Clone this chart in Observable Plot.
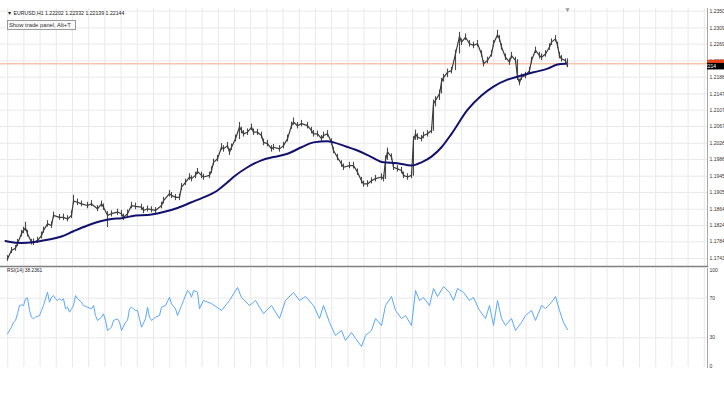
<!DOCTYPE html>
<html><head><meta charset="utf-8">
<script src="https://cdn.jsdelivr.net/npm/d3@7"></script>
<script src="https://cdn.jsdelivr.net/npm/@observablehq/plot@0.6"></script>
<style>
html,body{margin:0;padding:0;background:#fff;}
#wrap{position:relative;width:724px;height:395px;overflow:hidden;font-family:"Liberation Sans",Arial,sans-serif;background:#fff;}
#main{position:absolute;left:0;top:0;}
#rsi{position:absolute;left:0;top:267px;}
.hdr{position:absolute;left:7px;top:10px;font-size:5.2px;line-height:6px;color:#222;white-space:nowrap;}
.btn{position:absolute;left:6.5px;top:20px;width:69px;height:9.5px;border:1px solid #9a9a9a;background:#f8f8f8;font-size:5.8px;line-height:8px;padding-left:1.5px;color:#333;box-sizing:border-box;white-space:nowrap;}
.rsil{position:absolute;left:7px;top:268px;font-size:4.8px;line-height:5px;color:#222;white-space:nowrap;}
</style></head><body>
<div id="wrap"><div id="main"></div><div id="rsi"></div>
<div class="hdr">▼ EURUSD,H1 1.22202 1.22332 1.22139 1.22144</div>
<div class="btn">Show trade panel, Alt+T</div>
<div class="rsil">RSI(14) 38.2361</div>
</div>
<script>
// ---------- data ----------
const priceTicks = [1.2350,1.2309,1.2269,1.2228,1.2188,1.2147,1.2107,1.2067,1.2026,1.1986,1.1945,1.1905,1.1864,1.1824,1.1784,1.1743];
const rsiTicks = [100,70,30,0];
const rsiLevels = [70,30];
const bidPrice = 1.22144;
const askPrice = 1.2221;
const shiftBar = [281];

const barIndex = [1,3,5,6,8,9,10,11,13,14,
16,18,19,21,23,24,27,29,31,33,
34,36,38,41,43,46,48,49,51,53,
56,58,59,61,63,65,68,69,71,73,
75,78,79,82,83,85,87,88,90,92,
93,95,96,98,99,102,103,104,106,108,
109,111,112,113,115,117,118,119,121,123,
124,126,128,129,131,133,134,137,139,141,
143,144,146,148,151,153,154,156,158,159,
161,163,164,166,168,169,172,174,176,178,
179,181,183,185,188,189,190,191,193,194,
196,198,199,201,203,204,205,206,208,209,
211,213,214,215,217,218,219,221,223,225,
227,228,230,232,234,236,238,239,241,243,
244,246,247,248,250,252,253,255,256,257,
258,260,262,263,265,267,268,270,272,273,
275,276,277,278,280,281];

const closes = [1.1742,1.1763,1.1768,1.1780,1.1804,1.1812,1.1818,1.1804,1.1783,1.1783,
1.1787,1.1799,1.1812,1.1828,1.1824,1.1849,1.1844,1.1844,1.1840,1.1849,
1.1884,1.1881,1.1877,1.1873,1.1877,1.1865,1.1877,1.1869,1.1849,1.1853,
1.1857,1.1853,1.1844,1.1853,1.1873,1.1871,1.1869,1.1861,1.1865,1.1863,
1.1861,1.1873,1.1885,1.1902,1.1898,1.1893,1.1893,1.1918,1.1930,1.1943,
1.1939,1.1947,1.1957,1.1947,1.1943,1.1947,1.1959,1.1979,1.1988,1.2016,
1.2012,1.2020,1.2004,1.2016,1.2037,1.2066,1.2057,1.2049,1.2053,1.2065,
1.2053,1.2053,1.2045,1.2028,1.2025,1.2012,1.2016,1.2012,1.2020,1.2037,
1.2069,1.2078,1.2069,1.2074,1.2069,1.2057,1.2049,1.2049,1.2037,1.2045,
1.2049,1.2028,1.2008,1.1991,1.1975,1.1967,1.1971,1.1971,1.1955,1.1934,
1.1926,1.1926,1.1934,1.1939,1.1943,1.1939,1.1984,1.2005,1.1992,1.1967,
1.1963,1.1959,1.1947,1.1943,1.1947,1.2033,1.2049,1.2041,1.2037,1.2045,
1.2049,1.2057,1.2123,1.2131,1.2147,1.2176,1.2187,1.2200,1.2204,1.2245,
1.2288,1.2274,1.2286,1.2270,1.2266,1.2270,1.2245,1.2221,1.2229,1.2245,
1.2270,1.2292,1.2282,1.2262,1.2237,1.2225,1.2241,1.2229,1.2188,1.2175,
1.2188,1.2192,1.2204,1.2229,1.2254,1.2241,1.2237,1.2245,1.2262,1.2274,
1.2282,1.2266,1.2241,1.2233,1.2229,1.2214];

const highs = [1.1750,1.1770,1.1775,1.1790,1.1812,1.1820,1.1832,1.1812,1.1790,1.1791,
1.1795,1.1808,1.1820,1.1836,1.1833,1.1857,1.1851,1.1852,1.1848,1.1860,
1.1898,1.1889,1.1884,1.1881,1.1885,1.1873,1.1884,1.1877,1.1858,1.1860,
1.1864,1.1861,1.1852,1.1862,1.1881,1.1879,1.1876,1.1869,1.1872,1.1870,
1.1868,1.1881,1.1893,1.1910,1.1905,1.1900,1.1901,1.1927,1.1938,1.1951,
1.1946,1.1955,1.1964,1.1955,1.1950,1.1955,1.1968,1.1987,1.1996,1.2025,
1.2020,1.2028,1.2012,1.2024,1.2046,1.2077,1.2065,1.2057,1.2061,1.2073,
1.2061,1.2060,1.2053,1.2036,1.2033,1.2020,1.2023,1.2020,1.2028,1.2046,
1.2078,1.2088,1.2077,1.2082,1.2077,1.2065,1.2057,1.2056,1.2045,1.2053,
1.2057,1.2037,1.2016,1.1999,1.1983,1.1975,1.1979,1.1979,1.1963,1.1942,
1.1933,1.1934,1.1941,1.1947,1.1951,1.1947,1.1995,1.2014,1.2000,1.1975,
1.1971,1.1967,1.1955,1.1951,1.1955,1.2042,1.2058,1.2049,1.2045,1.2053,
1.2057,1.2065,1.2132,1.2140,1.2156,1.2185,1.2195,1.2208,1.2212,1.2254,
1.2298,1.2282,1.2294,1.2278,1.2274,1.2278,1.2253,1.2229,1.2237,1.2253,
1.2278,1.2303,1.2290,1.2270,1.2245,1.2233,1.2249,1.2237,1.2231,1.2183,
1.2196,1.2200,1.2212,1.2237,1.2262,1.2249,1.2245,1.2253,1.2270,1.2282,
1.2290,1.2274,1.2249,1.2241,1.2233,1.2233];

const lows = [1.1736,1.1755,1.1761,1.1772,1.1796,1.1804,1.1810,1.1796,1.1776,1.1775,
1.1780,1.1791,1.1805,1.1820,1.1817,1.1841,1.1837,1.1836,1.1833,1.1841,
1.1876,1.1873,1.1870,1.1865,1.1870,1.1858,1.1869,1.1861,1.1819,1.1845,
1.1849,1.1845,1.1836,1.1845,1.1865,1.1863,1.1861,1.1853,1.1857,1.1855,
1.1853,1.1865,1.1877,1.1894,1.1890,1.1885,1.1885,1.1910,1.1922,1.1935,
1.1931,1.1939,1.1949,1.1939,1.1935,1.1939,1.1951,1.1971,1.1980,1.2008,
1.2004,1.2012,1.1996,1.2008,1.2029,1.2035,1.2049,1.2041,1.2045,1.2057,
1.2045,1.2045,1.2037,1.2020,1.2017,1.2004,1.2008,1.2004,1.2012,1.2029,
1.2060,1.2070,1.2061,1.2066,1.2061,1.2049,1.2041,1.2041,1.2029,1.2037,
1.2041,1.2020,1.2000,1.1983,1.1967,1.1959,1.1963,1.1963,1.1947,1.1926,
1.1918,1.1918,1.1926,1.1931,1.1935,1.1931,1.1937,1.1984,1.1984,1.1959,
1.1955,1.1951,1.1939,1.1935,1.1939,1.1945,1.2033,1.2033,1.2029,1.2037,
1.2041,1.2049,1.2055,1.2115,1.2131,1.2147,1.2176,1.2187,1.2196,1.2204,
1.2245,1.2266,1.2278,1.2262,1.2258,1.2262,1.2237,1.2213,1.2221,1.2237,
1.2262,1.2284,1.2274,1.2254,1.2229,1.2217,1.2233,1.2221,1.2180,1.2167,
1.2180,1.2184,1.2196,1.2221,1.2246,1.2233,1.2229,1.2237,1.2254,1.2266,
1.2274,1.2258,1.2233,1.2225,1.2221,1.2214];

const maIndex = [0,1,8,14,21,28,34,41,48,53,58,63,73,79,86,93,99,106,111,114,121,128,134,141,148,154,161,164,169,176,183,189,196,203,208,213,218,223,231,238,244,251,258,264,271,276,280];
const maValues = [1.1786,1.1785,1.1781,1.1783,1.1789,1.1797,1.1810,1.1824,1.1835,1.1840,1.1842,1.1847,1.1851,1.1857,1.1867,1.1881,1.1893,1.1910,1.1930,1.1943,1.1967,1.1984,1.1992,1.2000,1.2016,1.2028,1.2031,1.2028,1.2020,1.2008,1.1992,1.1979,1.1977,1.1971,1.1979,1.1993,1.2016,1.2049,1.2108,1.2143,1.2165,1.2182,1.2192,1.2200,1.2209,1.2219,1.2221];

const rsiIndex = [1,3,4,5,6,7,8,9,10,11,12,13,14,15,17,18,19,21,22,23,24,25,26,27,28,29,30,31,32,33,34,35,36,38,39,41,43,44,45,46,48,49,50,51,53,54,56,57,58,60,61,62,63,65,66,67,68,70,71,72,73,75,77,78,80,82,83,85,86,88,89,91,92,93,94,96,97,
99,103,108,112,116,118,122,125,129,133,137,140,144,147,150,154,157,159,162,165,168,170,173,175,178,180,183,185,188,190,193,195,198,200,203,205,207,209,212,214,216,219,222,224,226,229,232,234,237,240,242,244,246,248,250,253,255,258,260,263,265,268,270,273,275,277,279,281];
const rsiValues = [34.0,40.7,45.8,47.5,54.2,62.6,63.3,62.6,69.4,70.4,57.6,50.8,49.2,50.8,52.5,57.6,62.6,76.1,66.0,71.0,72.7,69.4,67.7,69.4,67.7,69.4,59.3,60.9,55.9,59.3,62.6,72.7,69.4,66.0,62.6,60.9,59.3,62.6,52.5,47.5,50.8,54.2,47.5,37.4,40.7,47.5,49.2,45.8,37.4,45.8,47.5,59.3,60.9,57.6,57.6,49.2,40.7,49.2,60.9,50.8,47.5,50.8,52.5,60.9,62.6,71.0,64.3,59.3,52.5,62.6,67.7,77.8,76.1,71.0,77.8,76.1,59.3,
67.7,64.6,57.6,67.7,80.8,70.7,62.6,67.7,54.5,62.6,49.5,67.7,75.8,67.7,71.7,62.6,49.5,62.6,45.5,32.3,37.4,27.3,35.4,29.3,21.2,32.3,37.4,49.5,42.4,62.6,71.7,57.6,49.5,52.5,42.4,77.8,67.7,70.7,62.6,79.8,71.7,81.8,75.8,67.7,79.8,75.8,67.7,70.7,57.6,49.5,62.6,42.4,67.7,49.5,42.4,49.5,37.4,45.5,52.5,57.6,47.5,62.6,59.6,65.7,71.7,57.6,45.5,38.2];

// ---------- build ----------
const bars = barIndex.map((i, k) => ({i, c: closes[k], hi: highs[k], lo: lows[k]}));
const ma = maIndex.map((i, k) => ({i, v: maValues[k]}));
const rsi = rsiIndex.map((i, k) => ({i, v: rsiValues[k]}));

const xDomain = [-2.5, 351];
const gridTicks = d3.range(1.1, 351, 8.1);
const gridColor = "#e9e9e9";
const font = "Liberation Sans, Arial, sans-serif";

const main = Plot.plot({
  width: 724, height: 267, marginTop: 8, marginBottom: 1, marginLeft: 0, marginRight: 17,
  style: {background: "transparent", fontFamily: font, fontSize: "5px", color: "#333", overflow: "visible"},
  x: {domain: xDomain, axis: null},
  y: {domain: [1.17234, 1.23566], axis: null},
  marks: [
    Plot.gridX(gridTicks, {stroke: gridColor, strokeOpacity: 1}),
    Plot.gridY(priceTicks, {stroke: gridColor, strokeOpacity: 1}),
    Plot.ruleY([askPrice], {stroke: "#f7c3ad", strokeWidth: 1.5}),
    Plot.ruleX(bars, {x: "i", y1: "lo", y2: "hi", stroke: "#4a4a4a", strokeWidth: 1.1}),
    Plot.line(bars, {x: "i", y: "c", stroke: "#3c3c3c", strokeWidth: 1.2}),
    Plot.line(ma, {x: "i", y: "v", stroke: "#12126e", strokeWidth: 2, curve: "monotone-x"}),
    Plot.dot(shiftBar, {x: d => d, frameAnchor: "top", symbol: "triangle", r: 1.6, fill: "#999", rotate: 180, dy: 1}),
    Plot.axisY(priceTicks, {anchor: "right", tickSize: 0, tickPadding: 2, tickFormat: d => d.toFixed(4), label: null, fontSize: 5, fill: "#333"}),
    Plot.frame({anchor: "right", stroke: "#a8a8a8"}),
    Plot.frame({anchor: "bottom", stroke: "#808080", strokeWidth: 1.5})
  ]
});
document.getElementById("main").append(main);

// bid/ask price labels on the right axis, placed with the plot's own scales
{
  const ys = main.scale("y"), xs = main.scale("x");
  const x0 = xs.range[1];
  const svg = d3.select(main);
  const ya = ys.apply(askPrice), yb = ys.apply(bidPrice);
  svg.append("rect").attr("x", x0).attr("y", ya - 3.5).attr("width", 20).attr("height", 7).attr("fill", "#e8451f");
  svg.append("rect").attr("x", x0).attr("y", yb - 3).attr("width", 20).attr("height", 6.5).attr("fill", "#000");
  svg.append("text").attr("x", x0 + 1.5).attr("y", yb).attr("dy", "0.32em").attr("fill", "#fff")
    .attr("font-size", 5).attr("font-family", font).text(bidPrice.toFixed(4));
}

const rsiPlot = Plot.plot({
  width: 724, height: 100, marginTop: 1, marginBottom: 0, marginLeft: 0, marginRight: 17,
  style: {background: "transparent", fontFamily: font, fontSize: "5px", color: "#333", overflow: "visible"},
  x: {domain: xDomain, axis: null},
  y: {domain: [0, 100], axis: null},
  marks: [
    Plot.gridX(gridTicks, {stroke: gridColor, strokeOpacity: 1}),
    Plot.gridY(rsiLevels, {stroke: gridColor, strokeOpacity: 1}),
    Plot.line(rsi, {x: "i", y: "v", stroke: "#5aa8fa", strokeWidth: 1}),
    Plot.text([rsiTicks[0]], {y: d => d, frameAnchor: "right", textAnchor: "start", dx: 2, lineAnchor: "top", fontSize: 5, fill: "#333"}),
    Plot.text(rsiTicks.slice(1, 3), {y: d => d, frameAnchor: "right", textAnchor: "start", dx: 2, fontSize: 5, fill: "#333"}),
    Plot.text([rsiTicks[3]], {y: d => d, frameAnchor: "right", textAnchor: "start", dx: 2, lineAnchor: "bottom", fontSize: 5, fill: "#333"}),
    Plot.frame({anchor: "right", stroke: "#a8a8a8"})
  ]
});
document.getElementById("rsi").append(rsiPlot);
</script>
</body></html>
